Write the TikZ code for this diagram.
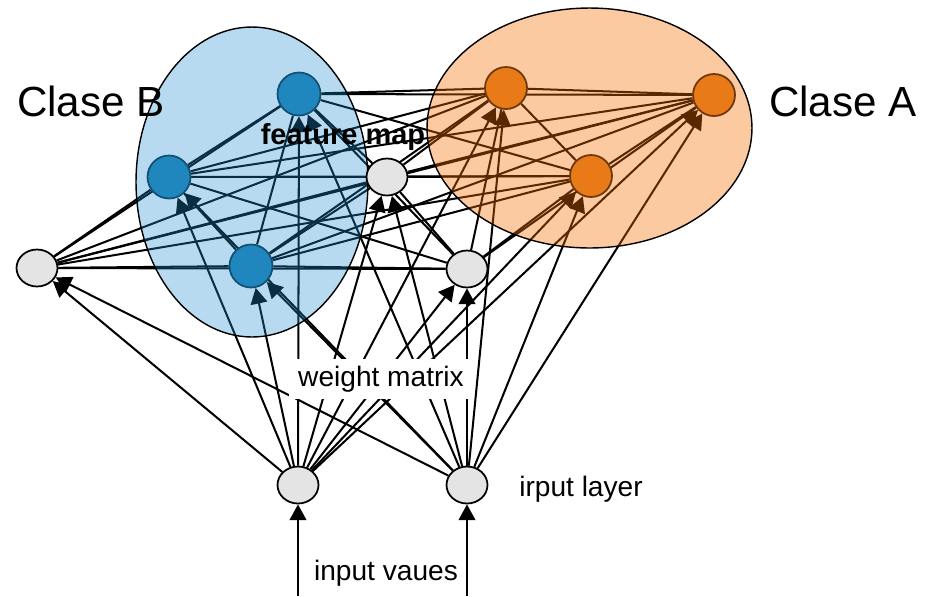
\documentclass[tikz,border=0pt]{standalone}
\usepackage{fontspec}
\setmainfont{Liberation Sans}
\usetikzlibrary{arrows.meta,shapes.geometric}
\definecolor{bluenode}{RGB}{31,135,190}
\definecolor{bluedraw}{RGB}{20,80,115}
\definecolor{orangenode}{RGB}{232,123,23}
\definecolor{orangedraw}{RGB}{110,55,10}
\definecolor{greynode}{RGB}{228,228,228}
\definecolor{blueov}{RGB}{30,140,210}
\definecolor{orangeov}{RGB}{245,110,0}
\tikzset{
  bnode/.style={circle,fill=bluenode,draw=bluedraw,line width=1pt,minimum size=0.86cm,inner sep=0pt},
  onode/.style={circle,fill=orangenode,draw=orangedraw,line width=1pt,minimum size=0.84cm,inner sep=0pt},
  gnode/.style={ellipse,fill=greynode,draw=black,line width=1pt,minimum width=0.82cm,minimum height=0.74cm,inner sep=0pt},
  lat/.style={line width=1.15pt,black},
  inarrow/.style={line width=1.15pt,black,-{Triangle[length=9pt,width=9.5pt]}},
  clsA/.style={ellipse,draw=black,line width=0.8pt,fill=orangeov,fill opacity=0.37},
  clsB/.style={ellipse,draw=black,line width=0.8pt,fill=blueov,fill opacity=0.32},
  bigtxt/.style={font=\fontsize{24}{28}\selectfont},
  midtxt/.style={font=\fontsize{16}{19}\selectfont},
}
\begin{document}
\begin{tikzpicture}[x=0.02cm,y=-0.02cm]
\useasboundingbox (0,0) rectangle (951,596);
\path
  (299,94)  coordinate (pb1)
  (169,177) coordinate (pb2)
  (251,266) coordinate (pb3)
  (387,177) coordinate (pg1)
  (37,268)  coordinate (pg2)
  (467,269) coordinate (pg3)
  (506,88)  coordinate (pa1)
  (714,95)  coordinate (pa2)
  (591,176) coordinate (pa3)
  (298,485) coordinate (pi1)
  (467,485) coordinate (pi2);
% invisible node shapes to get borders for connectors
\node[bnode,draw=none,fill=none] (b1) at (pb1) {};
\node[bnode,draw=none,fill=none] (b2) at (pb2) {};
\node[bnode,draw=none,fill=none] (b3) at (pb3) {};
\node[gnode,draw=none,fill=none] (g1) at (pg1) {};
\node[gnode,draw=none,fill=none] (g2) at (pg2) {};
\node[gnode,draw=none,fill=none] (g3) at (pg3) {};
\node[onode,draw=none,fill=none] (a1) at (pa1) {};
\node[onode,draw=none,fill=none] (a2) at (pa2) {};
\node[onode,draw=none,fill=none] (a3) at (pa3) {};
\node[gnode,draw=none,fill=none] (i1) at (pi1) {};
\node[gnode,draw=none,fill=none] (i2) at (pi2) {};
\coordinate (in1) at (298,596);
\coordinate (in2) at (467,596);
% lateral connections among feature map nodes
\foreach \u [count=\i] in {b1,b2,b3,g1,g2,g3,a1,a2,a3}{
  \foreach \v [count=\j] in {b1,b2,b3,g1,g2,g3,a1,a2,a3}{
    \ifnum\j>\i \draw[lat] (\u) -- (\v); \fi
  }
}
% input -> feature map
\foreach \s in {i1,i2}{
  \foreach \t in {b1,b2,b3,g1,g2,g3,a1,a2,a3}{
    \draw[inarrow] (\s) -- (\t);
  }
}
% input values
\draw[inarrow] (in1) -- (i1);
\draw[inarrow] (in2) -- (i2);
% class ellipses
\node[clsB,minimum width=4.64cm,minimum height=6.2cm] (cb) at (252,182) {};
\node[clsA,minimum width=6.5cm,minimum height=4.8cm] (ca) at (589.5,128) {};
% visible nodes
\node[bnode] at (pb1) {};
\node[bnode] at (pb2) {};
\node[bnode] at (pb3) {};
\node[gnode] at (pg1) {};
\node[gnode] at (pg2) {};
\node[gnode] at (pg3) {};
\node[onode] at (pa1) {};
\node[onode] at (pa2) {};
\node[onode] at (pa3) {};
\node[gnode] at (pi1) {};
\node[gnode] at (pi2) {};
% labels
\node[bigtxt] (lb) at (91,101) {Clase B};
\node[bigtxt] (la) at (843,101) {Clase A};
\node[font=\fontsize{16.5}{19}\selectfont\bfseries] (fm) at (343,137) {feature map};
\node[midtxt,fill=white,inner xsep=5pt,inner ysep=4pt] (wm) at (381,379) {weight matrix};
\node[midtxt] (il) at (581,489) {irput layer};
\node[midtxt] (iv) at (386,573) {input vaues};
\end{tikzpicture}
\end{document}
